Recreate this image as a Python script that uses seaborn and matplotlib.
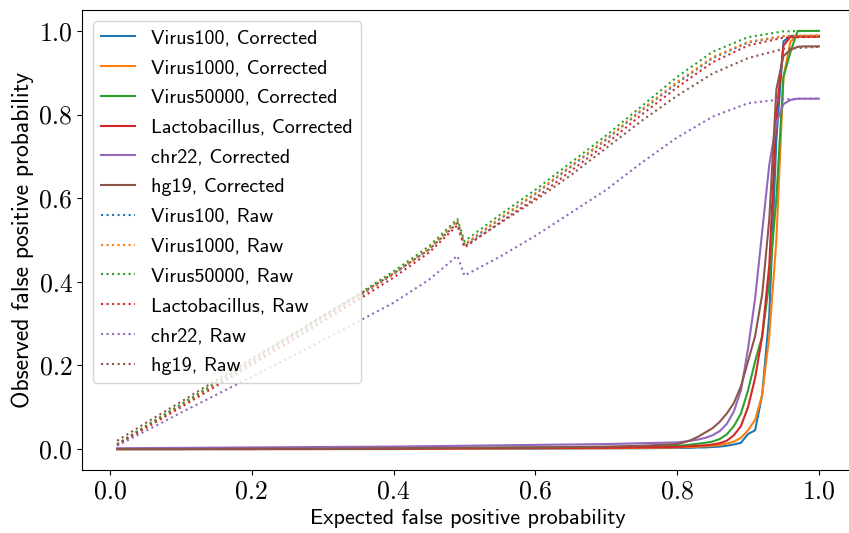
import matplotlib
matplotlib.use("Agg")
import matplotlib.pyplot as plt
import seaborn as sns
import pandas as pd

# ---- data ----
series_names = ["Virus100", "Virus1000", "Virus50000", "Lactobacillus", "chr22", "hg19"]
colors = ["#1f77b4", "#ff7f0e", "#2ca02c", "#d62728", "#9467bd", "#8c564b"]

x_corr = [0.01, 0.10, 0.20, 0.30, 0.40, 0.50, 0.60, 0.70, 0.75,
          0.80, 0.81, 0.82, 0.83, 0.84, 0.85, 0.86, 0.87, 0.88, 0.89, 0.90,
          0.91, 0.92, 0.93, 0.94, 0.95, 0.96, 0.97, 0.98, 0.99, 1.00]

virus100_corr = [0, 0, 0, 0, 0, 0.001, 0.001, 0.002, 0.002,
                 0.003, 0.003, 0.003, 0.004, 0.004, 0.005, 0.006, 0.008, 0.011, 0.015, 0.036,
                 0.045, 0.13, 0.32, 0.74, 0.975, 0.988, 0.988, 0.988, 0.988, 0.988]
virus1000_corr = [0, 0, 0, 0, 0.001, 0.001, 0.002, 0.002, 0.003,
                  0.004, 0.005, 0.005, 0.006, 0.007, 0.008, 0.010, 0.013, 0.018, 0.027, 0.045,
                  0.07, 0.13, 0.27, 0.50, 0.89, 0.975, 0.988, 0.988, 0.988, 0.988]
virus50000_corr = [0, 0, 0.001, 0.001, 0.002, 0.003, 0.004, 0.005, 0.006,
                   0.008, 0.009, 0.011, 0.013, 0.015, 0.018, 0.024, 0.035, 0.055, 0.085, 0.14,
                   0.21, 0.27, 0.40, 0.60, 0.89, 0.95, 1.0, 1.0, 1.0, 1.0]
lacto_corr = [0, 0, 0, 0.001, 0.001, 0.002, 0.003, 0.003, 0.004,
              0.005, 0.006, 0.007, 0.008, 0.009, 0.011, 0.014, 0.020, 0.033, 0.055, 0.10,
              0.17, 0.27, 0.44, 0.80, 0.965, 0.986, 0.986, 0.986, 0.986, 0.986]
chr22_corr = [0.002, 0.003, 0.004, 0.005, 0.006, 0.008, 0.010, 0.012, 0.014,
              0.016, 0.018, 0.020, 0.023, 0.027, 0.033, 0.043, 0.060, 0.090, 0.14, 0.24,
              0.36, 0.52, 0.68, 0.78, 0.825, 0.835, 0.838, 0.838, 0.838, 0.838]
hg19_corr = [0, 0, 0.001, 0.001, 0.002, 0.003, 0.004, 0.006, 0.008,
             0.012, 0.016, 0.022, 0.030, 0.040, 0.050, 0.065, 0.085, 0.11, 0.15, 0.21,
             0.27, 0.37, 0.55, 0.86, 0.94, 0.955, 0.962, 0.963, 0.963, 0.963]

x_raw = [0.01, 0.05, 0.10, 0.15, 0.20, 0.25, 0.30, 0.35, 0.40, 0.45, 0.49,
         0.50, 0.55, 0.60, 0.65, 0.70, 0.75, 0.80, 0.85, 0.90, 0.95, 1.00]

virus100_raw = [0.011, 0.053, 0.104, 0.156, 0.208, 0.26, 0.312, 0.364, 0.418, 0.478, 0.545,
                0.488, 0.55, 0.61, 0.675, 0.74, 0.81, 0.875, 0.935, 0.972, 0.987, 0.988]
virus1000_raw = [0.011, 0.054, 0.105, 0.157, 0.209, 0.261, 0.313, 0.366, 0.42, 0.48, 0.546,
                 0.49, 0.552, 0.612, 0.677, 0.742, 0.812, 0.878, 0.937, 0.974, 0.988, 0.989]
virus50000_raw = [0.012, 0.055, 0.107, 0.16, 0.212, 0.265, 0.318, 0.37, 0.425, 0.485, 0.55,
                  0.497, 0.56, 0.62, 0.685, 0.75, 0.82, 0.89, 0.95, 0.985, 0.999, 1.0]
lacto_raw = [0.010, 0.05, 0.10, 0.151, 0.202, 0.253, 0.305, 0.357, 0.41, 0.47, 0.535,
             0.482, 0.542, 0.60, 0.665, 0.73, 0.80, 0.865, 0.925, 0.965, 0.984, 0.986]
chr22_raw = [0.008, 0.043, 0.087, 0.13, 0.173, 0.216, 0.26, 0.305, 0.35, 0.405, 0.462,
             0.415, 0.46, 0.51, 0.565, 0.62, 0.685, 0.745, 0.795, 0.827, 0.837, 0.838]
hg19_raw = [0.02, 0.062, 0.113, 0.165, 0.216, 0.267, 0.318, 0.368, 0.42, 0.477, 0.54,
            0.485, 0.54, 0.595, 0.655, 0.72, 0.785, 0.845, 0.898, 0.935, 0.957, 0.962]

corrected = [virus100_corr, virus1000_corr, virus50000_corr, lacto_corr, chr22_corr, hg19_corr]
raw = [virus100_raw, virus1000_raw, virus50000_raw, lacto_raw, chr22_raw, hg19_raw]

x_label = "Expected false positive probability"
y_label = "Observed false positive probability"
ticks = [0.0, 0.2, 0.4, 0.6, 0.8, 1.0]

# ---- plot ----
plt.rcParams["font.family"] = ["cmss10", "DejaVu Sans"]
plt.rcParams["axes.unicode_minus"] = False

fig = plt.figure(figsize=(8.49, 5.33), dpi=100)
ax = fig.add_axes([82 / 849, 63 / 533, 772 / 849, 460 / 533])

for name, c, ys in zip(series_names, colors, corrected):
    df = pd.DataFrame({"x": x_corr, "y": ys})
    sns.lineplot(data=df, x="x", y="y", color=c, linewidth=1.5, ax=ax,
                 label=f"{name}, Corrected")
for name, c, ys in zip(series_names, colors, raw):
    df = pd.DataFrame({"x": x_raw, "y": ys})
    sns.lineplot(data=df, x="x", y="y", color=c, linewidth=1.5, linestyle=":", ax=ax,
                 label=f"{name}, Raw")

ax.set_xlim(-0.0395, 1.0495)
ax.set_ylim(-0.05, 1.05)
ax.set_xticks(ticks)
ax.set_yticks(ticks)
ax.set_xticklabels([f"{t:.1f}" for t in ticks])
ax.set_yticklabels([f"{t:.1f}" for t in ticks])
for lab in ax.get_xticklabels() + ax.get_yticklabels():
    lab.set_fontfamily(["cmr10", "DejaVu Serif"])
    lab.set_fontsize(18.5)
ax.set_xlabel(x_label, fontsize=16)
ax.set_ylabel(y_label, fontsize=17)
ax.legend(loc="upper left", fontsize=14.5, labelspacing=0.58,
          handlelength=1.7, handletextpad=0.8, borderaxespad=0.55)

fig.savefig("out.png", dpi=100)
